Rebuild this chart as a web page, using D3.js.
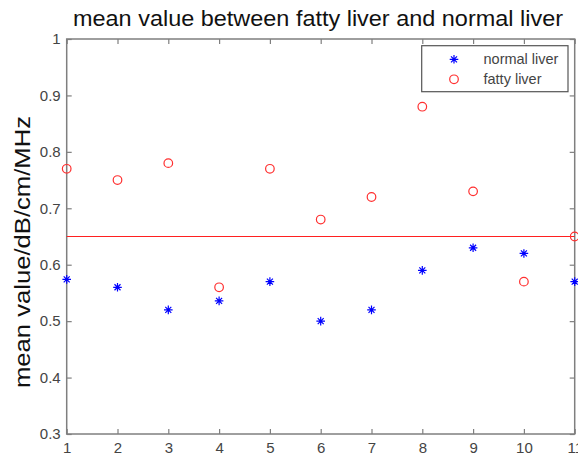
<!DOCTYPE html>
<html><head><meta charset="utf-8">
<script src="https://cdn.jsdelivr.net/npm/d3@7"></script>
<style>body{margin:0;background:#fff}svg{display:block}</style>
</head><body>
<svg id="c" width="578" height="455"></svg>
<script>
const xCats = [1,2,3,4,5,6,7,8,9,10,11];
const normalLiver = [0.574,0.56,0.52,0.536,0.57,0.50,0.52,0.59,0.63,0.62,0.57];
const fattyLiver = [0.77,0.75,0.78,0.56,0.77,0.68,0.72,0.88,0.73,0.57,0.65];
const threshold = 0.65;
const yTicks = [0.3,0.4,0.5,0.6,0.7,0.8,0.9,1];
const yTickLabels = ["0.3","0.4","0.5","0.6","0.7","0.8","0.9","1"];
const titleText = "mean value between fatty liver and normal liver";
const yLabelText = "mean value/dB/cm/MHz";
const legendLabels = ["normal liver","fatty liver"];

const svg = d3.select("#c");
const L=66.7, R=574.7, T=39, B=434;
const x = d3.scaleLinear().domain([1,11]).range([L,R]);
const y = d3.scaleLinear().domain([0.3,1]).range([B,T]);
const axCol = "#7f7f7f", txtCol = "#444";
const font = "Liberation Sans, Arial, sans-serif";

svg.append("defs").append("clipPath").attr("id","clip").append("rect")
  .attr("x",L-6).attr("y",T-6).attr("width",R-L+12).attr("height",B-T+12);

svg.append("rect").attr("x",L).attr("y",T).attr("width",R-L).attr("height",B-T)
  .attr("fill","none").attr("stroke",axCol).attr("stroke-width",1.5);

const xAxB = d3.axisBottom(x).tickValues(xCats).tickSizeInner(-5).tickSizeOuter(0).tickPadding(8).tickFormat(d3.format("d"));
const gx = svg.append("g").attr("transform",`translate(0,${B})`).call(xAxB);
const xAxT = d3.axisTop(x).tickValues(xCats).tickSizeInner(-5).tickSizeOuter(0).tickFormat("");
const gxt = svg.append("g").attr("transform",`translate(0,${T})`).call(xAxT);
const yAxL = d3.axisLeft(y).tickValues(yTicks).tickSizeInner(-5).tickSizeOuter(0).tickPadding(6)
  .tickFormat((d,i)=>yTickLabels[i]);
const gy = svg.append("g").attr("transform",`translate(${L},0)`).call(yAxL);
const yAxR = d3.axisRight(y).tickValues(yTicks).tickSizeInner(-5).tickSizeOuter(0).tickFormat("");
const gyr = svg.append("g").attr("transform",`translate(${R},0)`).call(yAxR);
[gx,gxt,gy,gyr].forEach(g=>{
  g.select(".domain").remove();
  g.selectAll(".tick line").attr("stroke",axCol).attr("stroke-width",1.2);
  g.selectAll(".tick text").attr("fill",txtCol).style("font-family",font).style("font-size","15px");
});
gx.selectAll(".tick text").attr("dy","0.71em");

svg.append("line").attr("x1",x(1)).attr("x2",x(11)).attr("y1",y(threshold)).attr("y2",y(threshold))
  .attr("stroke","#ff2020").attr("stroke-width",1.2);

const star = "M-4.3,0L4.3,0M0,-4.3L0,4.3M-3,-3L3,3M-3,3L3,-3";
const plot = svg.append("g").attr("clip-path","url(#clip)");
plot.selectAll(".n").data(normalLiver).enter().append("path").attr("class","n")
  .attr("transform",(d,i)=>`translate(${x(xCats[i])},${y(d)})`).attr("d",star)
  .attr("stroke","#0000ff").attr("stroke-width",1.2).attr("fill","none");
plot.selectAll(".f").data(fattyLiver).enter().append("circle").attr("class","f")
  .attr("cx",(d,i)=>x(xCats[i])).attr("cy",d=>y(d)).attr("r",4.3)
  .attr("stroke","#ff3030").attr("stroke-width",1.2).attr("fill","none");

svg.append("text").attr("x",318).attr("y",26).attr("text-anchor","middle")
  .attr("textLength",490).attr("lengthAdjust","spacingAndGlyphs")
  .style("font-family",font).style("font-size","22px").attr("fill","#111").text(titleText);
svg.append("text").attr("transform",`translate(30,252) rotate(-90)`).attr("text-anchor","middle")
  .attr("textLength",272).attr("lengthAdjust","spacingAndGlyphs")
  .style("font-family",font).style("font-size","22px").attr("fill","#111").text(yLabelText);

const lg = svg.append("g");
lg.append("rect").attr("x",421.7).attr("y",45.7).attr("width",146.3).attr("height",46)
  .attr("fill","#fff").attr("stroke","#555").attr("stroke-width",1.2);
lg.append("path").attr("transform","translate(454,59.3)").attr("d",star)
  .attr("stroke","#0000ff").attr("stroke-width",1.2).attr("fill","none");
lg.append("circle").attr("cx",454).attr("cy",79.3).attr("r",4.3)
  .attr("stroke","#ff3030").attr("stroke-width",1.2).attr("fill","none");
legendLabels.forEach((t,i)=>{
  lg.append("text").attr("x",483.5).attr("y",59.3+i*20).attr("dy","0.35em")
    .style("font-family",font).style("font-size","14.5px").attr("fill",txtCol).text(t);
});
</script>
</body></html>
